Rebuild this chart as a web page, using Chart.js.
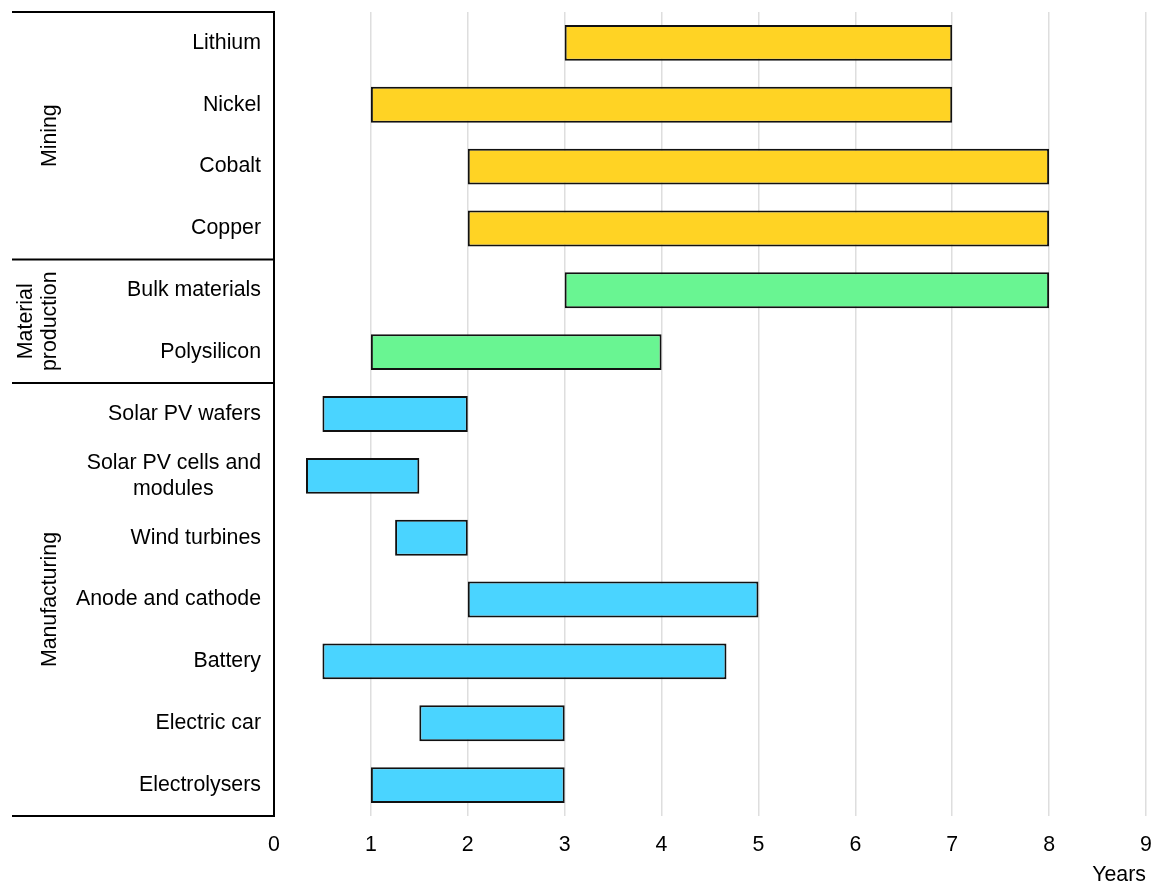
<!DOCTYPE html>
<html>
<head>
<meta charset="utf-8">
<script src="https://cdn.jsdelivr.net/npm/chart.js@4"></script>
<style>
html,body{margin:0;padding:0;overflow:hidden;background:#fff}
#wrap{position:absolute;left:0;top:0;width:1152px;height:888px}
</style>
</head>
<body>
<div id="wrap"><canvas id="c"></canvas></div>
<script>
// ---- data ----
const categories = ['Lithium', 'Nickel', 'Cobalt', 'Copper', 'Bulk materials', 'Polysilicon',
  'Solar PV wafers', ['Solar PV cells and', 'modules'], 'Wind turbines', 'Anode and cathode',
  'Battery', 'Electric car', 'Electrolysers'];
const startYears = [3, 1, 2, 2, 3, 1, 0.5, 0.33, 1.25, 2, 0.5, 1.5, 1];
const endYears   = [7, 7, 8, 8, 8, 4, 2,   1.5,  2,    5, 4.67, 3, 3];
const groupOf = ['Mining', 'Mining', 'Mining', 'Mining', 'Material production', 'Material production',
  'Manufacturing', 'Manufacturing', 'Manufacturing', 'Manufacturing', 'Manufacturing', 'Manufacturing', 'Manufacturing'];
const groupNames = ['Mining', 'Material production', 'Manufacturing'];
const groupLabelLines = [['Mining'], ['Material', 'production'], ['Manufacturing']];
const groupColors = ['#FFD324', '#69F592', '#4AD4FF'];
const xMin = 0, xMax = 9, xStep = 1;
const xTitle = 'Years';

// ---- styling ----
const FAMILY = '"Liberation Sans", Arial, sans-serif';
const FSIZE = 21.33;
const font = { family: FAMILY, size: FSIZE };
const measureCtx = document.createElement('canvas').getContext('2d');
function centerLines(lines) {
  measureCtx.font = FSIZE + 'px ' + FAMILY;
  const w = lines.map(l => measureCtx.measureText(l).width);
  const max = Math.max(...w);
  const sp = measureCtx.measureText(' ').width;
  return lines.map((l, i) => l + ' '.repeat(Math.round((max - w[i]) / 2 / sp)));
}

const groupPlugin = {
  id: 'groups',
  afterDraw(chart) {
    const y = chart.scales.y, area = chart.chartArea, ctx = chart.ctx;
    const n = categories.length;
    const edge = i => i <= 0 ? area.top : (i >= n ? area.bottom :
      (y.getPixelForValue(i - 1) + y.getPixelForValue(i)) / 2);
    const ranges = [];
    let s = 0;
    groupNames.forEach(g => {
      let e = s;
      while (e < n && groupOf[e] === g) e++;
      ranges.push([s, e]);
      s = e;
    });
    ctx.save();
    ctx.strokeStyle = '#000';
    ctx.lineWidth = 2;
    const lines = [edge(0)].concat(ranges.map(r => edge(r[1])));
    lines.forEach(py => {
      ctx.beginPath();
      ctx.moveTo(12, py);
      ctx.lineTo(area.left, py);
      ctx.stroke();
    });
    ctx.fillStyle = '#000';
    ctx.font = FSIZE + 'px ' + FAMILY;
    ctx.textAlign = 'center';
    ctx.textBaseline = 'alphabetic';
    ranges.forEach((r, gi) => {
      const cy = (edge(r[0]) + edge(r[1])) / 2;
      const lns = groupLabelLines[gi];
      lns.forEach((t, li) => {
        const bx = 56 - (lns.length - 1 - li) * 24;
        ctx.save();
        ctx.translate(bx, cy);
        ctx.rotate(-Math.PI / 2);
        ctx.fillText(t, 0, 0);
        ctx.restore();
      });
    });
    ctx.restore();
  }
};

new Chart(document.getElementById('c'), {
  type: 'bar',
  data: {
    labels: categories,
    datasets: [{
      data: categories.map((_, i) => [startYears[i], endYears[i]]),
      backgroundColor: groupOf.map(g => groupColors[groupNames.indexOf(g)]),
      borderColor: '#111',
      borderWidth: 2,
      borderSkipped: false,
      barPercentage: 0.58,
      categoryPercentage: 1
    }]
  },
  options: {
    indexAxis: 'y',
    responsive: true,
    maintainAspectRatio: false,
    animation: false,
    layout: { padding: { top: 12, right: 6, left: 0, bottom: 0 } },
    plugins: { legend: { display: false }, tooltip: { enabled: false } },
    scales: {
      x: {
        type: 'linear', min: xMin, max: xMax,
        ticks: { stepSize: xStep, padding: 16, color: '#000', font: font },
        grid: { color: '#dedede', lineWidth: 1.5, drawTicks: false },
        border: { display: false },
        title: { display: true, text: xTitle, align: 'end', color: '#000', font: font, padding: { top: 4, bottom: 0 } },
        afterFit(sc) { sc.height = 72; sc.paddingLeft = 0; sc.paddingRight = 0; sc.paddingTop = 0; sc.paddingBottom = 0; }
      },
      y: {
        ticks: {
          padding: 13, color: '#000', font: font,
          callback(value) {
            const l = this.getLabelForValue(value);
            return Array.isArray(l) ? centerLines(l) : l;
          }
        },
        grid: { display: false, drawTicks: false },
        border: { display: true, color: '#000', width: 2 },
        afterFit(sc) { sc.width = 274; sc.paddingTop = 0; sc.paddingBottom = 0; sc.paddingLeft = 0; sc.paddingRight = 0; }
      }
    }
  },
  plugins: [groupPlugin]
});
</script>
</body>
</html>
